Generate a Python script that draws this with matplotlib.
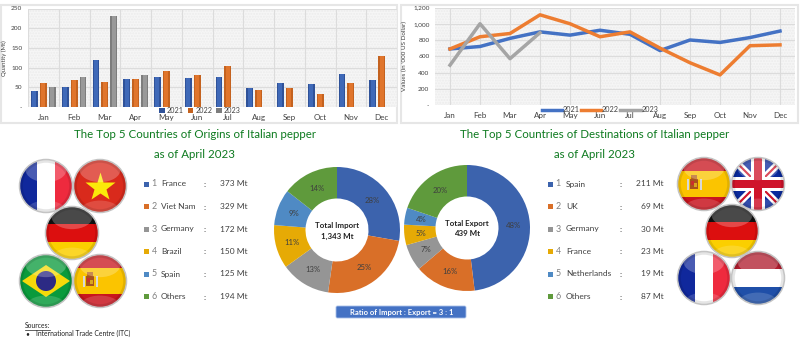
import numpy as np
import matplotlib
matplotlib.use("Agg")
import matplotlib.pyplot as plt
from matplotlib.patches import Circle, Ellipse, Rectangle, Polygon, FancyBboxPatch

months = ["Jan", "Feb", "Mar", "Apr", "May", "Jun", "Jul", "Aug", "Sep", "Oct", "Nov", "Dec"]

qty_2021 = [41, 50, 119, 72, 77, 73, 75, 49, 62, 58, 85, 68]
qty_2022 = [60, 68, 64, 72, 91, 82, 105, 42, 47, 32, 62, 130]
qty_2023 = [52, 76, 231, 80]

val_2021 = [690, 720, 820, 900, 860, 920, 870, 670, 800, 770, 830, 910]
val_2022 = [690, 840, 880, 1110, 1000, 840, 900, 700, 520, 370, 730, 740]
val_2023 = [490, 1000, 570, 890]

import_names = ["France", "Viet Nam", "Germany", "Brazil", "Spain", "Others"]
import_mt = [373, 329, 172, 150, 125, 194]
import_pct = ["28%", "25%", "13%", "11%", "9%", "14%"]

export_names = ["Spain", "UK", "Germany", "France", "Netherlands", "Others"]
export_mt = [211, 69, 30, 23, 19, 87]
export_pct = ["48%", "16%", "7%", "5%", "4%", "20%"]

BLUE = "#3c63ad"
ORANGE = "#d96f28"
GRAY = "#959595"
YELLOW = "#e6aa05"
LBLUE = "#4f8ac4"
GREEN = "#5f9a3c"
slice_colors = [BLUE, ORANGE, GRAY, YELLOW, LBLUE, GREEN]
TITLE_GREEN = "#0d7a1f"
TEXT = "#404040"

plt.rcParams["font.family"] = ["Lato", "DejaVu Sans"]

W, H = 800, 360
fig = plt.figure(figsize=(W / 100, H / 100), dpi=100, facecolor="white")


def px_axes(x0, y0, x1, y1):
    return fig.add_axes([x0 / W, 1 - y1 / H, (x1 - x0) / W, (y1 - y0) / H])


# overlay in pixel coordinates for panels, flags and text
ov = fig.add_axes([0, 0, 1, 1], zorder=0)
ov.set_xlim(0, W)
ov.set_ylim(H, 0)
ov.axis("off")
ov.add_patch(Rectangle((1, 5), 396, 118, fc="white", ec="#e6e6e6", lw=1.5))
ov.add_patch(Rectangle((401, 5), 397, 118, fc="white", ec="#e6e6e6", lw=1.5))


def style_chart(ax):
    ax.set_facecolor("#f6f6f6")
    ax.patch.set_hatch("......")
    ax.patch.set_edgecolor("#ececec")
    ax.grid(True, color="#dcdcdc", lw=0.8)
    ax.set_axisbelow(True)
    for s in ax.spines.values():
        s.set_visible(False)
    ax.tick_params(length=0)
    ax.tick_params(axis="y", labelsize=4.6, labelcolor=TEXT, pad=4)
    ax.tick_params(axis="x", labelsize=5.8, labelcolor=TEXT, pad=5)


# bar chart
ax1 = px_axes(28, 8.5, 397, 107)
style_chart(ax1)
x = np.arange(len(months))
width = 0.22
for offset, vals, dark, light, name in [
    (-0.29, qty_2021, "#2f5299", "#3f69b8", "2021"),
    (0, qty_2022, "#c4621f", "#e0752c", "2022"),
    (0.29, qty_2023, "#7d7d7d", "#999999", "2023"),
]:
    xs = x[: len(vals)] + offset
    ax1.bar(xs, vals, width, color=dark, label=name, zorder=2)
    ax1.bar(xs, vals, width * 0.6, color=light, zorder=3)
ax1.set_xlim(-0.5, 11.5)
ax1.set_ylim(0, 250)
ax1.set_xticks(x, months)
ax1.xaxis.grid(False)
ax1.set_xticks(np.arange(-0.5, 12), minor=True)
ax1.grid(True, which="minor", axis="x", color="#dcdcdc", lw=0.8)
ax1.tick_params(which="minor", length=0)
ax1.set_yticks([0, 50, 100, 150, 200, 250], ["-", "50", "100", "150", "200", "250"])
ax1.set_ylabel("Quantity (Mt)", fontsize=4.3, color=TEXT, labelpad=3)
ax1.legend(
    loc="center", bbox_to_anchor=(200 / W, 1 - 110.5 / H), bbox_transform=fig.transFigure,
    ncol=3, frameon=False, fontsize=5.2, labelcolor=TEXT, handlelength=0.8, handleheight=0.8,
    columnspacing=0.5, handletextpad=0.3, borderpad=0,
)

# line chart
ax2 = px_axes(435, 7.5, 795, 105)
style_chart(ax2)
ax2.plot(months, val_2021, color="#4472c4", lw=2.5, label="2021", solid_joinstyle="round")
ax2.plot(months, val_2022, color="#ed7d31", lw=2.5, label="2022", solid_joinstyle="round")
ax2.plot(months[: len(val_2023)], val_2023, color="#a5a5a5", lw=2.5, label="2023", solid_joinstyle="round")
ax2.set_xlim(-0.5, 11.5)
ax2.set_ylim(0, 1200)
ax2.set_yticks(range(0, 1201, 200), ["-", "200", "400", "600", "800", "1,000", "1,200"])
ax2.set_ylabel("Values (in '000 US Dollar)", fontsize=4.5, color=TEXT, labelpad=4)
ax2.legend(
    loc="center", bbox_to_anchor=(600 / W, 1 - 110 / H), bbox_transform=fig.transFigure,
    ncol=3, frameon=False, fontsize=5.2, labelcolor=TEXT, handlelength=2.8,
    columnspacing=0.2, handletextpad=0.1, borderpad=0,
)

# donuts
for cx, cy, vals, pcts, l1, l2 in [
    (337, 230, import_mt, import_pct, "Total Import", "1,343 Mt"),
    (467, 228, export_mt, export_pct, "Total Export", "439 Mt"),
]:
    r = 63
    ax = px_axes(cx - r, cy - r, cx + r, cy + r)
    ax.pie(
        vals, colors=slice_colors, startangle=90, counterclock=False, radius=1,
        labels=pcts, labeldistance=0.74, textprops=dict(fontsize=5.6, color="#3f3f3f", ha="center", va="center"),
        wedgeprops=dict(width=0.5, edgecolor="none"),
    )
    ax.set_xlim(-1, 1)
    ax.set_ylim(-1, 1)
    fig.text(cx / W, 1 - (cy - 4.5) / H, l1, fontsize=5.7, fontweight="bold", color="#222222", ha="center", va="center", zorder=5)
    fig.text(cx / W, 1 - (cy + 6) / H, l2, fontsize=5.7, fontweight="bold", color="#222222", ha="center", va="center", zorder=5)

# titles
ov.text(195, 134, "The Top 5 Countries of Origins of Italian pepper", fontsize=8.3, color=TITLE_GREEN, ha="center", va="center")
ov.text(195, 154.5, "as of April 2023", fontsize=8.3, color=TITLE_GREEN, ha="center", va="center")
ov.text(595, 134, "The Top 5 Countries of Destinations of Italian pepper", fontsize=8.3, color=TITLE_GREEN, ha="center", va="center")
ov.text(595, 154.5, "as of April 2023", fontsize=8.3, color=TITLE_GREEN, ha="center", va="center")

# legend tables
rows_y = [184, 206.5, 229, 251.5, 274, 296.5]
for names, vals, xb, xn, xname, xc, xv in [
    (import_names, import_mt, 146.5, 154, 161, 205, 248),
    (export_names, export_mt, 550.5, 558, 566, 621, 664),
]:
    for i, (n, v, y) in enumerate(zip(names, vals, rows_y)):
        ov.add_patch(Rectangle((xb - 2.5, y - 2.5), 5, 5, fc=slice_colors[i], ec="none"))
        ov.text(xn, y, str(i + 1), fontsize=6.4, color="#808080", ha="center", va="center")
        ov.text(xname, y, n, fontsize=6, color=TEXT, ha="left", va="center")
        ov.text(xc, y + 0.5, ":", fontsize=6, color=TEXT, ha="center", va="center")
        ov.text(xv, y, f"{v} Mt", fontsize=6, color=TEXT, ha="right", va="center")

# ratio box
ov.add_patch(FancyBboxPatch((336, 306), 130, 12, boxstyle="round,pad=0,rounding_size=1.5", fc="#4472c4", ec="#a9c0e8", lw=0.6))
ov.text(401.5, 312, "Ratio of Import : Export = 3 : 1", fontsize=5.5, fontweight="bold", color="white", ha="center", va="center")

# sources
ov.text(25, 326, "Sources:", fontsize=4.9, color="#222222", ha="left", va="center")
ov.plot([25, 49.5], [329.5, 329.5], color="#222222", lw=0.5)
ov.text(25, 333.5, "•", fontsize=4.9, color="#222222", ha="left", va="center")
ov.text(36, 333.5, "International Trade Centre (ITC)", fontsize=4.9, color="#222222", ha="left", va="center")


# flags, each drawn inside a round clip with a glossy highlight
def band(clip, x0, y0, w, h, col, z=3):
    p = Rectangle((x0, y0), w, h, fc=col, ec="none", zorder=z)
    ov.add_patch(p)
    p.set_clip_path(clip)
    return p


def poly(clip, pts, col, z=4):
    p = Polygon(pts, fc=col, ec="none", zorder=z)
    ov.add_patch(p)
    p.set_clip_path(clip)


def spain_crest(cx, cy, clip):
    band(clip, cx - 4, cy - 5, 8, 10, "#a8541c", 4)
    band(clip, cx - 3, cy - 3, 3, 4, "#c9302c", 5)
    band(clip, cx, cy - 1, 3, 4, "#d9a520", 5)
    band(clip, cx - 7.5, cy - 5, 2, 11, "#d8d8d8", 4)
    band(clip, cx + 5.5, cy - 5, 2, 11, "#d8d8d8", 4)
    band(clip, cx - 3, cy - 9, 6, 4, "#b8661e", 4)


def draw_flag(kind, cx, cy, r=26.5):
    clip = Circle((cx, cy), r, transform=ov.transData)
    x0, y0, d = cx - r, cy - r, 2 * r
    if kind == "france":
        band(clip, x0, y0, d / 3, d, "#10289c")
        band(clip, x0 + d / 3, y0, d / 3, d, "white")
        band(clip, x0 + 2 * d / 3, y0, d / 3, d, "#ee2a3e")
    elif kind == "vietnam":
        band(clip, x0, y0, d, d, "#d92a1c")
        ov.plot([cx], [cy + 1], marker="*", ms=22, color="#fbe90a", mec="none", zorder=4)
    elif kind == "germany":
        band(clip, x0, y0, d, d / 3, "#111111")
        band(clip, x0, y0 + d / 3, d, d / 3, "#dc0f0f")
        band(clip, x0, y0 + 2 * d / 3, d, d / 3, "#fbcf00")
    elif kind == "brazil":
        band(clip, x0, y0, d, d, "#0a9a3c")
        poly(clip, [(cx - 24, cy), (cx, cy - 16), (cx + 24, cy), (cx, cy + 16)], "#f5d90a")
        ov.add_patch(Circle((cx, cy), 10, fc="#2c2a84", ec="none", zorder=5))
    elif kind == "spain":
        band(clip, x0, y0, d, d / 4, "#c8141e")
        band(clip, x0, y0 + d / 4, d, d / 2, "#fbc400")
        band(clip, x0, y0 + 3 * d / 4, d, d / 4, "#c8141e")
        spain_crest(cx - 10, cy, clip)
    elif kind == "netherlands":
        band(clip, x0, y0, d, d / 3, "#b01c2e")
        band(clip, x0, y0 + d / 3, d, d / 3, "white")
        band(clip, x0, y0 + 2 * d / 3, d, d / 3, "#1f4fa8")
    elif kind == "uk":
        band(clip, x0, y0, d, d, "#0a2a9c")
        for sgn in (1, -1):
            poly(clip, [(cx - r, cy - sgn * (r - 5)), (cx - r, cy - sgn * (r + 5)), (cx + r, cy + sgn * (r - 5)), (cx + r, cy + sgn * (r + 5))], "white")
            poly(clip, [(cx - r, cy - sgn * (r - 1.5)), (cx - r, cy - sgn * (r + 1.5)), (cx + r, cy + sgn * (r - 1.5)), (cx + r, cy + sgn * (r + 1.5))], "#cf142b")
        band(clip, x0, cy - 7, d, 14, "white", 5)
        band(clip, cx - 7, y0, 14, d, "white", 5)
        band(clip, x0, cy - 4, d, 8, "#cf142b", 6)
        band(clip, cx - 4, y0, 8, d, "#cf142b", 6)
    # gloss
    g = Ellipse((cx, cy - r * 0.62), r * 1.55, r * 0.95, fc="white", alpha=0.24, ec="none", zorder=8)
    ov.add_patch(g)
    g.set_clip_path(clip)
    g2 = Ellipse((cx, cy + r * 0.95), r * 1.5, r * 0.8, fc="white", alpha=0.16, ec="none", zorder=8)
    ov.add_patch(g2)
    g2.set_clip_path(clip)
    ring = Circle((cx, cy), r - 1.5, fc="none", ec="black", alpha=0.1, lw=2.5, zorder=8)
    ov.add_patch(ring)
    ring.set_clip_path(clip)
    ov.add_patch(Circle((cx, cy), r, fc="none", ec="#c4c4c4", lw=1.1, zorder=9))


for kind, fx, fy in [
    ("france", 46, 186), ("vietnam", 100, 186), ("germany", 72, 233),
    ("brazil", 46, 281), ("spain", 100, 281),
    ("spain", 704, 184), ("uk", 758, 184), ("germany", 732, 231),
    ("france", 704, 278), ("netherlands", 758, 278),
]:
    draw_flag(kind, fx, fy)

fig.savefig("out.png", dpi=100)
